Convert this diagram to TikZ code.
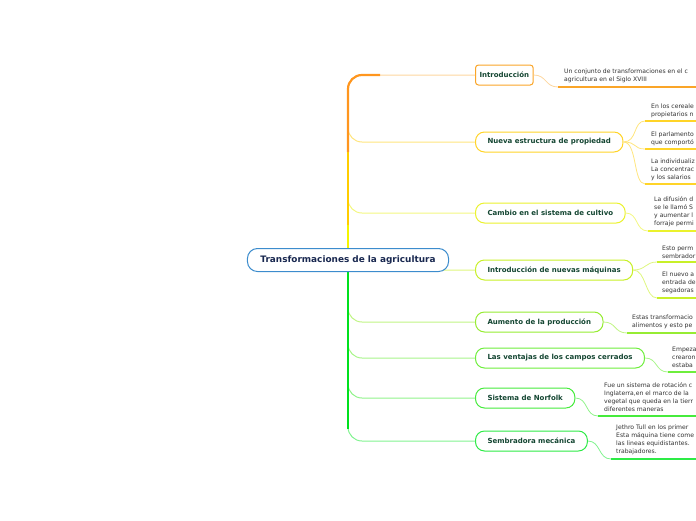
\documentclass[tikz,border=0pt]{standalone}
\usepackage{fontspec}
\setmainfont{DejaVu Sans}
\usetikzlibrary{positioning}
\definecolor{RootBlue}{RGB}{60,140,205}
\definecolor{RootNavy}{RGB}{25,40,80}
\definecolor{BranchInk}{RGB}{20,70,50}
\definecolor{LeafInk}{RGB}{50,50,50}
\definecolor{TrunkOrange}{RGB}{255,150,30}
\definecolor{TrunkGold}{RGB}{255,205,0}
\definecolor{TrunkYellow}{RGB}{245,245,0}
\definecolor{TrunkGreen}{RGB}{0,225,30}
\definecolor{MindOrange}{RGB}{250,165,40}
\definecolor{MindGold}{RGB}{255,212,40}
\definecolor{MindYellow}{RGB}{235,242,45}
\definecolor{MindLime}{RGB}{200,240,40}
\definecolor{MindGrass}{RGB}{150,236,50}
\definecolor{MindLeaf}{RGB}{110,238,60}
\definecolor{MindGreen}{RGB}{70,235,60}
\definecolor{MindMint}{RGB}{45,235,70}
\tikzset{
  root/.style={draw=RootBlue,fill=white,line width=1pt,rounded corners=10pt,
    inner xsep=13pt,minimum height=23pt,text=RootNavy,
    font=\bfseries\fontsize{8.9}{10}\selectfont},
  topic/.style={draw=#1,fill=white,line width=1pt,rounded corners=9pt,
    inner xsep=12pt,minimum height=20pt,anchor=west,text=BranchInk,
    font=\bfseries\fontsize{7}{8}\selectfont},
  leaf/.style={align=left,inner sep=0pt,anchor=west,text=LeafInk,
    font=\fontsize{6.1}{8}\selectfont},
  trunk/.style={line width=2.2pt,#1},
  limb/.style={line width=1pt,#1,rounded corners=14pt},
  twig/.style={line width=0.8pt,#1},
  under/.style={line width=1.8pt,#1}
}
\begin{document}
\begin{tikzpicture}[x=1pt,y=-1pt]
  \useasboundingbox (0,0) rectangle (696,520);
  \clip (0,0) rectangle (696,520);
  \coordinate (stem) at (348,260);
  \coordinate (edge) at (700,0);

  % main topics
  \node[topic=MindOrange,rounded corners=3pt,inner xsep=4pt] (b1) at (475,75) {Introducción};
  \node[topic=MindGold] (b2) at (475,142) {Nueva estructura de propiedad};
  \node[topic=MindYellow] (b3) at (475,213) {Cambio en el sistema de cultivo};
  \node[topic=MindLime] (b4) at (475,270) {Introducción de nuevas máquinas};
  \node[topic=MindGrass] (b5) at (475,322) {Aumento de la producción};
  \node[topic=MindLeaf] (b6) at (475,358) {Las ventajas de los campos cerrados};
  \node[topic=MindGreen] (b7) at (475,398) {Sistema de Norfolk};
  \node[topic=MindMint] (b8) at (475,441) {Sembradora mecánica};

  % limbs from the trunk
  \draw[limb=MindOrange!45] ([yshift=-20pt]b1.west -| stem) |- (b1.west);
  \draw[limb=MindGold!60] ([yshift=20pt]b2.west -| stem) |- (b2.west);
  \draw[limb=MindYellow!60] ([yshift=20pt]b3.west -| stem) |- (b3.west);
  \draw[limb=MindLime!60] ([yshift=20pt]b4.west -| stem) |- (b4.west);
  \draw[limb=MindGrass!60] ([yshift=20pt]b5.west -| stem) |- (b5.west);
  \draw[limb=MindLeaf!60] ([yshift=20pt]b6.west -| stem) |- (b6.west);
  \draw[limb=MindGreen!60] ([yshift=20pt]b7.west -| stem) |- (b7.west);
  \draw[limb=MindMint!60] ([yshift=20pt]b8.west -| stem) |- (b8.west);

  % trunk
  \coordinate (t1) at (348,152);
  \coordinate (t2) at (348,225);
  \draw[trunk=TrunkOrange,rounded corners=14pt] (t1) |- ([xshift=-95pt]b1.west);
  \draw[trunk=TrunkGold] (t1) -- (t2);
  \draw[trunk=TrunkYellow] (t2) -- (stem);
  \draw[trunk=TrunkGreen] (stem) -- ([yshift=12pt]b8.west -| stem);

  \node[root] (root) at (stem) {Transformaciones de la agricultura};

  % leaves
  \node[leaf] (l1) at (564,76) {Un conjunto de transformaciones en el c\\agricultura en el Siglo XVIII};
  \coordinate (u1) at (558,87);
  \draw[twig=MindOrange!45] (b1.east) .. controls +(13,0) and +(-13,0) .. (u1);
  \draw[under=MindOrange] (u1) -- (u1 -| edge);

  \node[leaf] (l2a) at (651,111) {En los cereale\\propietarios n};
  \node[leaf] (l2b) at (651,139) {El parlamento\\que comportó};
  \node[leaf] (l2c) at (651,170) {La individualiz\\La concentrac\\y los salarios};
  \coordinate (u2a) at (645,121);
  \coordinate (u2b) at (645,149);
  \coordinate (u2c) at (645,184);
  \foreach \u in {u2a,u2b,u2c} {
    \draw[twig=MindGold!60] (b2.east) .. controls +(14,0) and +(-12,0) .. (\u);
    \draw[under=MindGold] (\u) -- (\u -| edge);
  }

  \node[leaf] (l3) at (654,212) {La difusión d\\se le llamó S\\y aumentar l\\forraje permi};
  \coordinate (u3) at (648,231);
  \draw[twig=MindYellow!60] (b3.east) .. controls +(13,0) and +(-13,0) .. (u3);
  \draw[under=MindYellow] (u3) -- (u3 -| edge);

  \node[leaf] (l4a) at (662,252) {Esto perm\\sembrador};
  \node[leaf] (l4b) at (662,283) {El nuevo a\\entrada de\\segadoras};
  \coordinate (u4a) at (657,262);
  \coordinate (u4b) at (657,298);
  \foreach \u in {u4a,u4b} {
    \draw[twig=MindLime!60] (b4.east) .. controls +(13,0) and +(-12,0) .. (\u);
    \draw[under=MindLime] (\u) -- (\u -| edge);
  }

  \node[leaf] (l5) at (632,322) {Estas transformacio\\alimentos y esto pe};
  \coordinate (u5) at (627,333);
  \draw[twig=MindGrass!60] (b5.east) .. controls +(13,0) and +(-13,0) .. (u5);
  \draw[under=MindGrass] (u5) -- (u5 -| edge);

  \node[leaf] (l6) at (672,357) {Empeza\\crearon\\estaba};
  \coordinate (u6) at (668,372);
  \draw[twig=MindLeaf!60] (b6.east) .. controls +(13,0) and +(-13,0) .. (u6);
  \draw[under=MindLeaf] (u6) -- (u6 -| edge);

  \node[leaf] (l7) at (604,397) {Fue un sistema de rotación c\\Inglaterra,en el marco de la\\vegetal que queda en la tierr\\diferentes maneras};
  \coordinate (u7) at (598,416);
  \draw[twig=MindGreen!60] (b7.east) .. controls +(13,0) and +(-13,0) .. (u7);
  \draw[under=MindGreen] (u7) -- (u7 -| edge);

  \node[leaf] (l8) at (616,440) {Jethro Tull en los primer\\Esta máquina tiene come\\las lineas equidistantes.\\trabajadores.};
  \coordinate (u8) at (611,459);
  \draw[twig=MindMint!60] (b8.east) .. controls +(13,0) and +(-13,0) .. (u8);
  \draw[under=MindMint] (u8) -- (u8 -| edge);
\end{tikzpicture}
\end{document}
